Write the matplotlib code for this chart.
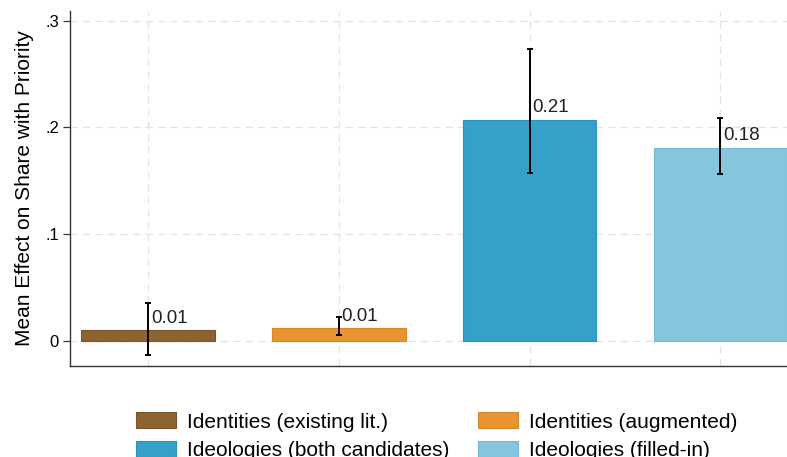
import matplotlib
matplotlib.use("Agg")
import matplotlib.pyplot as plt
from matplotlib.patches import Patch

plt.rcParams['font.family'] = ['Liberation Sans', 'DejaVu Sans']

categories = ["Identities (existing lit.)", "Identities (augmented)",
              "Ideologies (both candidates)", "Ideologies (filled-in)"]
means = [0.01, 0.012, 0.207, 0.181]
ci_low = [-0.013, 0.006, 0.157, 0.156]
ci_high = [0.036, 0.022, 0.273, 0.209]
labels = ["0.01", "0.01", "0.21", "0.18"]
colors = ["#8c6331", "#e8952f", "#35a1c9", "#85c5de"]
edges = ["#7a5428", "#d9862a", "#2a93bb", "#75b9d4"]

yticks = [0, 0.1, 0.2, 0.3]
ytick_labels = ["0", ".1", ".2", ".3"]

fig = plt.figure(figsize=(7.87, 4.57), dpi=100)
ax = fig.add_axes([0.089, 0.199, 0.911, 0.777])

x = [1, 2, 3, 4]
ax.bar(x, means, width=0.7, color=colors, edgecolor=edges, linewidth=0.8, zorder=2)
yerr = [[m - lo for m, lo in zip(means, ci_low)], [hi - m for m, hi in zip(means, ci_high)]]
ax.errorbar(x, means, yerr=yerr, fmt='none', ecolor='black', elinewidth=1.4,
            capsize=2.3, capthick=1.4, zorder=3)
for xi, m, lab in zip(x, means, labels):
    ax.annotate(lab, (xi, m), xytext=(2, 2.5), textcoords='offset points',
                ha='left', va='bottom', fontsize=13.5, color='#222222', zorder=4)

ax.set_xlim(0.59, 4.35)
ax.set_ylim(-0.0235, 0.309)
ax.set_xticks(x)
ax.set_xticklabels([])
ax.tick_params(axis='x', length=0)
ax.set_yticks(yticks)
ax.set_yticklabels(ytick_labels, fontsize=12)
ax.tick_params(axis='y', length=5, width=0.9, color='#333333', pad=3)
ax.grid(True, color='#e3e3e3', linestyle=(0, (6, 4)), linewidth=0.9, zorder=0)
for side in ['top', 'right']:
    ax.spines[side].set_visible(False)
for side in ['left', 'bottom']:
    ax.spines[side].set_color('#333333')
    ax.spines[side].set_linewidth(1.0)
ax.set_ylabel("Mean Effect on Share with Priority", fontsize=15, labelpad=8)

# legend fills column-wise, so order entries to read row by row
order = [0, 2, 1, 3]
handles = [Patch(facecolor=colors[i], edgecolor=edges[i], linewidth=0.8) for i in order]
fig.legend(handles, [categories[i] for i in order], loc='upper left',
           bbox_to_anchor=(0.1728, 0.098), ncol=2, frameon=False, fontsize=15,
           handlelength=1.92, handleheight=0.82, columnspacing=1.39,
           labelspacing=0.45, handletextpad=0.53, borderaxespad=0, borderpad=0)

fig.savefig("out.png", dpi=100)
